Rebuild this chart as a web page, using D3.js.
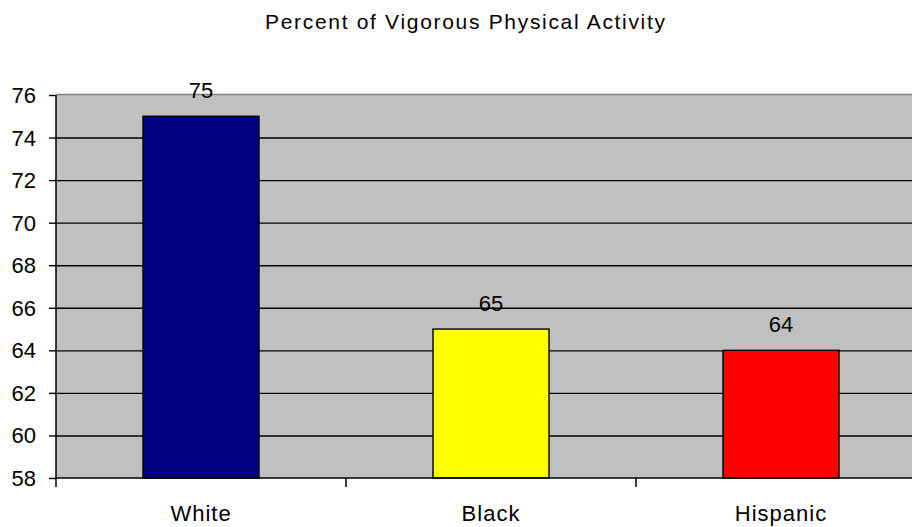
<!DOCTYPE html>
<meta charset="utf-8">
<body style="margin:0;background:#fff">
    <div id="chart"></div>
</body>
<script src="https://d3js.org/d3.v7.min.js"></script>
<style>
    text {
        font-family: "Liberation Sans", Arial, sans-serif;
        fill: #000;
    }
</style>
<script>
    var categories = ["White", "Black", "Hispanic"];
    var values = [75, 65, 64];
    var barColors = ["#000080", "#ffff00", "#ff0000"];
    var yTicks = [58, 60, 62, 64, 66, 68, 70, 72, 74, 76];
    var title = "Percent of Vigorous Physical Activity";

    var width = 912,
        height = 527;

    var plot = {left: 56, right: 926, top: 95, bottom: 478};

    var svg = d3.select("#chart")
        .append("svg")
            .attr("width", width)
            .attr("height", height);

    var x = d3.scaleBand()
        .domain(categories)
        .range([plot.left, plot.right])
        .paddingInner(0.6)
        .paddingOuter(0.3);

    var y = d3.scaleLinear()
        .domain([58, 76])
        .range([plot.bottom, plot.top]);

    // plot background
    svg.append("rect")
        .attr("x", plot.left)
        .attr("y", plot.top)
        .attr("width", plot.right - plot.left)
        .attr("height", plot.bottom - plot.top)
        .attr("fill", "#c0c0c0");

    // gridlines (skip bottom, top one is grey border)
    svg.append("g")
        .selectAll("line")
        .data(yTicks.filter(function(d) { return d > 58 && d < 76; }))
        .enter().append("line")
            .attr("x1", plot.left)
            .attr("x2", plot.right)
            .attr("y1", function(d) { return y(d) + 0.5; })
            .attr("y2", function(d) { return y(d) + 0.5; })
            .attr("stroke", "#000")
            .attr("stroke-width", 1.4);

    svg.append("line")
        .attr("x1", plot.left).attr("x2", plot.right)
        .attr("y1", y(76) - 0.5).attr("y2", y(76) - 0.5)
        .attr("stroke", "#808080")
        .attr("stroke-width", 1.5);

    // bars
    svg.append("g")
        .selectAll("rect")
        .data(values)
        .enter().append("rect")
            .attr("x", function(d, i) { return x(categories[i]); })
            .attr("y", function(d) { return y(d); })
            .attr("width", x.bandwidth())
            .attr("height", function(d) { return y(58) - y(d); })
            .attr("fill", function(d, i) { return barColors[i]; })
            .attr("stroke", "#000")
            .attr("stroke-width", 1.4);

    // value labels
    svg.append("g")
        .selectAll("text")
        .data(values)
        .enter().append("text")
            .attr("x", function(d, i) { return x(categories[i]) + x.bandwidth() / 2; })
            .attr("y", function(d) { return y(d) - 18; })
            .attr("text-anchor", "middle")
            .attr("font-size", 22)
            .text(function(d) { return d; });

    // y axis
    var yAxis = svg.append("g")
        .attr("transform", "translate(" + plot.left + ",0)")
        .call(d3.axisLeft(y).tickValues(yTicks).tickSize(7).tickPadding(13));
    yAxis.select(".domain").remove();
    yAxis.selectAll(".tick line").attr("stroke", "#000").attr("stroke-width", 1.4);
    yAxis.selectAll(".tick text")
        .attr("font-size", 22)
        .attr("font-family", "Liberation Sans, Arial, sans-serif")
        .attr("dy", "0.34em");

    svg.append("line")
        .attr("x1", plot.left).attr("x2", plot.left)
        .attr("y1", plot.top).attr("y2", plot.bottom + 9)
        .attr("stroke", "#000")
        .attr("stroke-width", 1.5);

    // x axis
    svg.append("line")
        .attr("x1", plot.left).attr("x2", plot.right)
        .attr("y1", plot.bottom).attr("y2", plot.bottom)
        .attr("stroke", "#000")
        .attr("stroke-width", 1.5);

    svg.append("g")
        .selectAll("line")
        .data(categories)
        .enter().append("line")
            .attr("x1", function(d) { return x(d) + x.bandwidth() / 2 + x.step() / 2; })
            .attr("x2", function(d) { return x(d) + x.bandwidth() / 2 + x.step() / 2; })
            .attr("y1", plot.bottom)
            .attr("y2", plot.bottom + 9)
            .attr("stroke", "#000")
            .attr("stroke-width", 1.5);

    svg.append("g")
        .selectAll("text")
        .data(categories)
        .enter().append("text")
            .attr("x", function(d) { return x(d) + x.bandwidth() / 2; })
            .attr("y", plot.bottom + 43)
            .attr("text-anchor", "middle")
            .attr("font-size", 22)
            .attr("letter-spacing", 1)
            .text(function(d) { return d; });

    // title
    svg.append("text")
        .attr("x", 465)
        .attr("y", 29)
        .attr("text-anchor", "middle")
        .attr("font-size", 21)
        .attr("textLength", 400)
        .attr("lengthAdjust", "spacing")
        .text(title);
</script>
